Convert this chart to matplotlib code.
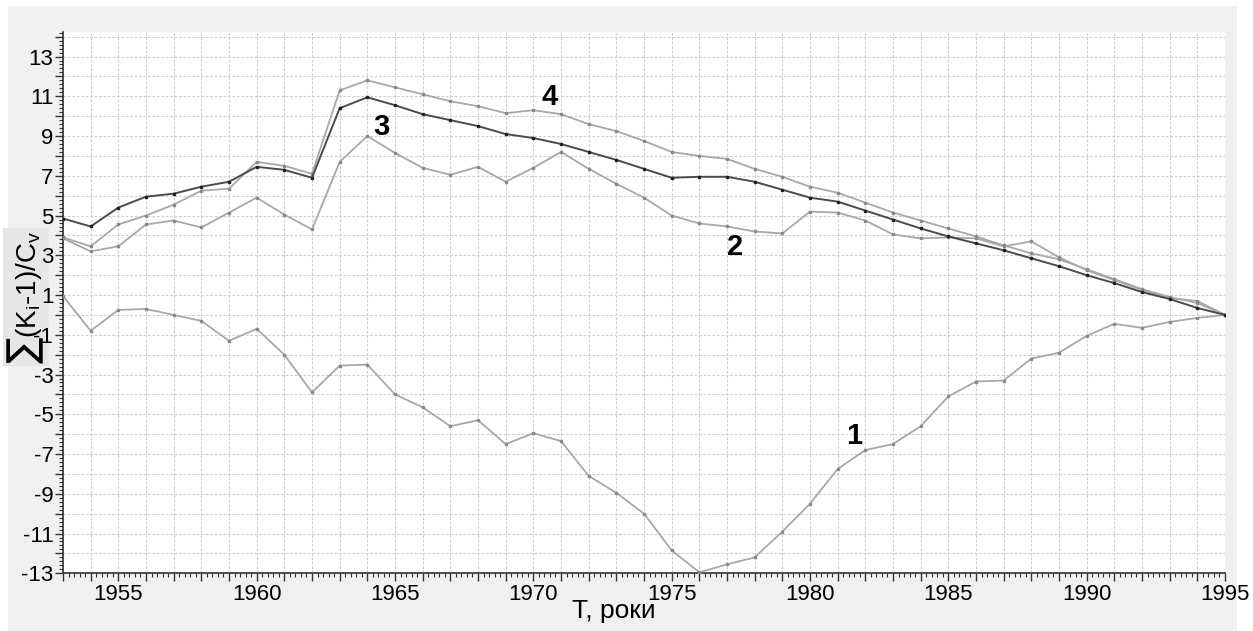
import numpy as np
import matplotlib
matplotlib.use('Agg')
import matplotlib.pyplot as plt
from matplotlib.ticker import MultipleLocator, FuncFormatter
from matplotlib.patches import Rectangle

plt.rcParams['font.family'] = ['Liberation Sans', 'DejaVu Sans']

# years of the series
years = list(range(1953, 1996))

# curve 1
curve1 = [0.95, -0.8, 0.25, 0.3, 0.0, -0.3, -1.3, -0.7, -2.0, -3.9,
          -2.55, -2.5, -4.0, -4.65, -5.6, -5.3, -6.5, -5.95, -6.35, -8.1,
          -8.95, -10.0, -11.85, -12.95, -12.55, -12.2, -10.9, -9.5, -7.75, -6.8,
          -6.5, -5.6, -4.1, -3.35, -3.3, -2.2, -1.9, -1.05, -0.45, -0.65,
          -0.35, -0.15, 0.0]

# curve 2
curve2 = [3.85, 3.2, 3.45, 4.55, 4.75, 4.4, 5.15, 5.9, 5.05, 4.3,
          7.7, 9.0, 8.15, 7.4, 7.05, 7.45, 6.7, 7.4, 8.2, 7.35,
          6.6, 5.9, 5.0, 4.6, 4.45, 4.2, 4.1, 5.2, 5.15, 4.75,
          4.05, 3.85, 3.9, 3.85, 3.45, 3.7, 2.9, 2.25, 1.75, 1.25,
          0.85, 0.7, 0.0]

# curve 3
curve3 = [4.85, 4.45, 5.4, 5.95, 6.1, 6.45, 6.7, 7.45, 7.3, 6.9,
          10.4, 10.95, 10.55, 10.1, 9.8, 9.5, 9.1, 8.9, 8.6, 8.2,
          7.8, 7.35, 6.9, 6.95, 6.95, 6.7, 6.3, 5.9, 5.7, 5.25,
          4.8, 4.35, 3.95, 3.6, 3.25, 2.85, 2.45, 2.0, 1.6, 1.15,
          0.8, 0.35, 0.0]

# curve 4
curve4 = [3.9, 3.45, 4.55, 5.0, 5.55, 6.25, 6.35, 7.7, 7.5, 7.1,
          11.3, 11.8, 11.45, 11.1, 10.75, 10.5, 10.15, 10.3, 10.1, 9.6,
          9.25, 8.75, 8.2, 8.0, 7.85, 7.35, 6.95, 6.45, 6.15, 5.65,
          5.15, 4.75, 4.35, 3.95, 3.5, 3.1, 2.8, 2.3, 1.8, 1.3,
          0.9, 0.6, 0.0]

curve_labels = ['1', '2', '3', '4']
label_x = [1981.6, 1977.3, 1964.5, 1970.6]
label_y = [-6.1, 3.4, 9.45, 10.95]

fig = plt.figure(figsize=(12.53, 6.31), dpi=100)
fig.patch.set_facecolor('white')
# gray panel behind the plot
fig.patches.append(Rectangle((8 / 1253, 0), (1237 - 8) / 1253, 1 - 6 / 631,
                             transform=fig.transFigure, facecolor='#f0f0f0',
                             edgecolor='none', zorder=-5))

ax = fig.add_axes([63 / 1253, 1 - 573.3 / 631, (1225 - 63) / 1253, (573.3 - 31.7) / 631])
ax.set_zorder(2)
ax.set_facecolor('white')

light = '#a8a8a8'
dark = '#4a4a4a'
ax.plot(years, curve1, color=light, lw=1.3, marker='s', ms=1.6, mfc='#8a8a8a', mec='#8a8a8a', zorder=3)
ax.plot(years, curve2, color=light, lw=1.3, marker='s', ms=1.6, mfc='#8a8a8a', mec='#8a8a8a', zorder=3)
ax.plot(years, curve4, color=light, lw=1.3, marker='s', ms=1.6, mfc='#8a8a8a', mec='#8a8a8a', zorder=3)
ax.plot(years, curve3, color=dark, lw=1.4, marker='s', ms=1.8, mfc='#222222', mec='#222222', zorder=4)

for t, x, y in zip(curve_labels, label_x, label_y):
    ax.text(x, y, t, fontsize=21, fontweight='bold', ha='center', va='center', zorder=5)

ax.set_xlim(1953, 1995)
ax.set_ylim(-13, 14.25)

ax.xaxis.set_major_locator(MultipleLocator(1))
ax.xaxis.set_minor_locator(MultipleLocator(0.2))
ax.xaxis.set_major_formatter(FuncFormatter(lambda v, p: '%d' % v if int(round(v)) % 5 == 0 else ''))
ax.yaxis.set_major_locator(MultipleLocator(1))
ax.yaxis.set_minor_locator(MultipleLocator(0.2))
ax.yaxis.set_major_formatter(FuncFormatter(lambda v, p: '%d' % v if int(round(v)) % 2 != 0 else ''))

ax.tick_params(axis='both', which='major', length=6, width=1, color='#333333', labelsize=16, pad=2)
ax.tick_params(axis='both', which='minor', length=3, width=0.8, color='#333333')
ax.tick_params(axis='y', which='major', pad=1)

ax.grid(True, which='major', color='#cfcfcf', linestyle=(0, (2.5, 1.5)), lw=0.8, zorder=0)
ax.set_axisbelow(True)

for side in ['top', 'right']:
    ax.spines[side].set_visible(False)
ax.spines['left'].set_color('#333333')
ax.spines['bottom'].set_color('#333333')
ax.spines['left'].set_linewidth(1.2)
ax.spines['bottom'].set_linewidth(1.2)

fig.text(614 / 1253, 1 - 611 / 631, 'T, роки', fontsize=19, ha='center', va='center')
ylab = fig.text(26 / 1253, 1 - 297 / 631, r'∑(K$_\mathregular{i}$-1)/C$_\mathregular{v}$',
                fontsize=20, rotation=90, ha='center', va='center',
                bbox=dict(facecolor='#e6e6e6', edgecolor='none', pad=2))
ylab.set_zorder(1)

fig.savefig('out.png', dpi=100, facecolor=fig.get_facecolor())
